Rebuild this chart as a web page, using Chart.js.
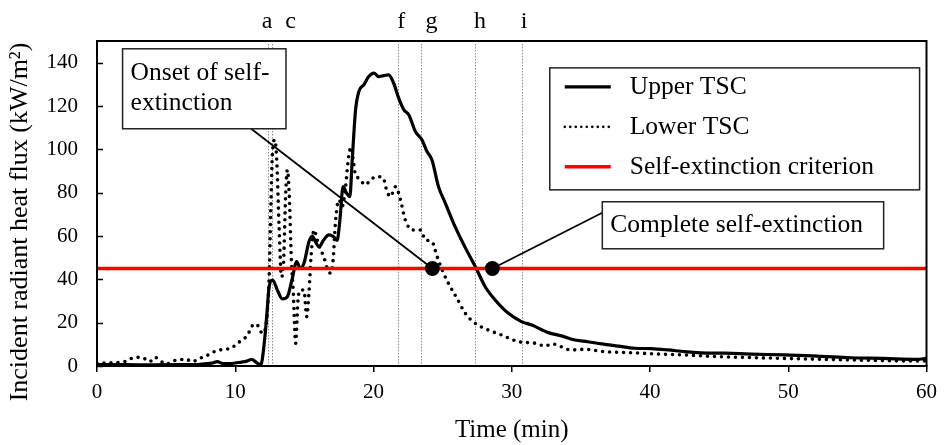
<!DOCTYPE html>
<html>
<head>
<meta charset="utf-8">
<script src="https://cdn.jsdelivr.net/npm/chart.js@4.4.1/dist/chart.umd.min.js"></script>
<style>
  html, body { margin: 0; padding: 0; background: #fff; }
  canvas { display: block; }
</style>
</head>
<body>
<canvas id="flux" width="945" height="445"></canvas>
<script>
/* radiant heat flux vs time, upper / lower TSC */

const upperTime = [0, 2, 4, 6, 7.5, 8.3, 8.7, 9.1, 9.6, 10.2, 10.7, 11.2, 11.6, 11.85, 12.1, 12.3, 12.45, 12.7, 13.05, 13.4, 13.77, 14.1, 14.45, 14.7, 14.97, 15.33, 15.57, 15.8, 16.05, 16.4, 16.77, 17.1, 17.37, 17.57, 17.8, 18.05, 18.29, 18.46, 18.7, 18.94, 19.3, 19.66, 20.02, 20.38, 20.74, 21.1, 21.46, 21.83, 22.2, 22.55, 23.03, 23.5, 23.87, 24.23, 24.7, 25.2, 25.9, 26.6, 27.36, 28.08, 28.8, 29.76, 30.7, 31.45, 32.65, 33.6, 34.57, 35.5, 36.5, 37.7, 38.9, 40.1, 41.3, 42.5, 43.7, 45.4, 47.3, 49.7, 52.1, 54.5, 56.9, 59.3, 60];
const upperFlux = [0.6, 0.6, 0.5, 0.6, 0.8, 1.3, 2.0, 1.1, 1.1, 1.6, 2.0, 3.0, 1.3, 0.6, 10.6, 25, 36.6, 39.7, 35, 31, 32, 39.7, 48.2, 45, 47.4, 57.4, 60, 57.4, 55, 58.2, 60.5, 59.7, 58, 67.4, 82.8, 79.8, 78.2, 95, 118, 126.7, 129.8, 133.6, 135.2, 133.6, 134, 134.4, 130.5, 123.5, 118.2, 116, 108.2, 104.4, 99, 95.1, 82.8, 75.1, 64.3, 55.1, 45.9, 36.6, 30.5, 24.3, 20.5, 18.9, 15.4, 13.9, 12, 11.2, 10.2, 9.2, 8.2, 8.0, 7.4, 6.6, 6.1, 5.9, 5.5, 5.1, 4.6, 3.8, 3.5, 3.1, 3.5];

const lowerTime = [0, 1, 2, 2.5, 2.95, 3.4, 3.8, 4.2, 4.6, 5.0, 5.5, 5.95, 6.4, 6.9, 7.4, 7.9, 8.24, 8.7, 9.2, 9.7, 10.16, 10.5, 10.9, 11.1, 11.36, 11.65, 11.96, 12.2, 12.45, 12.57, 12.68, 12.86, 13.0, 13.17, 13.34, 13.48, 13.65, 13.77, 13.9, 14.06, 14.2, 14.37, 14.54, 14.73, 14.97, 15.17, 15.33, 15.5, 15.7, 15.93, 16.18, 16.4, 16.65, 16.9, 17.08, 17.26, 17.5, 17.73, 17.98, 18.2, 18.39, 18.53, 18.7, 18.94, 19.42, 19.78, 20.26, 20.7, 20.98, 21.22, 21.6, 21.95, 22.3, 22.8, 23.4, 23.75, 24.23, 24.6, 25.07, 25.55, 26.03, 26.64, 27.36, 28.3, 29.28, 30.5, 31.7, 32.4, 32.9, 34.3, 35.3, 36.7, 38.7, 40.6, 42.5, 44.9, 47.3, 49.7, 54.5, 59.3, 60];
const lowerFlux = [1.2, 1.5, 2, 3.5, 4, 3.5, 2, 4, 2.3, 0.9, 2.3, 2.8, 3.2, 2, 3.5, 4.6, 5.9, 7.1, 7.7, 8.2, 10.5, 12, 14.3, 17, 19.4, 18.5, 15.1, 18, 41, 72, 96.7, 104.4, 95, 64.3, 41.2, 45.9, 79.8, 90.5, 79.8, 49, 33.6, 10.5, 30.5, 35.1, 35, 22.8, 33.6, 52, 62.8, 58.2, 53.6, 50.5, 45.1, 42.8, 49, 67.4, 76.7, 73.6, 82.8, 96.7, 101, 95, 88.2, 86.7, 83.6, 85.9, 87.4, 86.7, 80.5, 78.2, 82.8, 76.7, 67.4, 62.8, 62.8, 58.2, 57.4, 50.5, 42.8, 36.6, 31.3, 24.3, 19.7, 16.6, 14.3, 11.2, 10.5, 9.2, 10.2, 7.4, 7.7, 6.6, 6.1, 5.5, 5.1, 4.3, 3.9, 3.5, 2.8, 2.3, 2.3];

const criterion = 45;
const extinctionTimes = [24.26, 28.6];   // onset, complete

const markerTimes = [12.35, 12.64, 21.75, 23.4, 27.36, 30.75];
const letterLabels = ['a', 'c', 'f', 'g', 'h', 'i'];
const letterTimes = [12.3, 14.0, 22.0, 24.2, 27.7, 30.9];

const xTicks = [0, 10, 20, 30, 40, 50, 60];
const yTicks = [0, 20, 40, 60, 80, 100, 120, 140];

const legendOrder = ['Upper TSC', 'Lower TSC', 'Self-extinction criterion'];
const yTitle = 'Incident radiant heat flux (kW/m²)';

const SERIF = '"Liberation Serif", "Times New Roman", serif';

// callout boxes, in data units
const callouts = [
  { lines: ['Onset of self-', 'extinction'], x0: 1.85, x1: 13.67, y0: 146.4, y1: 109.5, from: [11.15, 109.5], to: 0 },
  { lines: ['Complete self-extinction'], x0: 36.55, x1: 56.9, y0: 75.8, y1: 54.1, from: [36.55, 70.7], to: 1 }
];
const legendBox = { x0: 32.75, x1: 59.5, y0: 137.6, y1: 81.3 };

const pts = (xs, ys) => xs.map((x, i) => ({ x, y: ys[i] }));

const overlay = {
  id: 'overlay',
  beforeDatasetsDraw(chart) {
    const { ctx, chartArea: a, scales: { x, y } } = chart;
    ctx.save();
    // dotted markers a..i
    ctx.strokeStyle = '#8c8c8c';
    ctx.lineWidth = 1;
    ctx.setLineDash([1.5, 1.5]);
    markerTimes.forEach(t => {
      const px = Math.round(x.getPixelForValue(t)) + 0.5;
      ctx.beginPath(); ctx.moveTo(px, a.top); ctx.lineTo(px, a.bottom); ctx.stroke();
    });
    ctx.setLineDash([]);
    // leader lines
    ctx.strokeStyle = '#000';
    ctx.lineWidth = 1.8;
    callouts.forEach(c => {
      ctx.beginPath();
      ctx.moveTo(x.getPixelForValue(c.from[0]), y.getPixelForValue(c.from[1]));
      ctx.lineTo(x.getPixelForValue(extinctionTimes[c.to]), y.getPixelForValue(criterion));
      ctx.stroke();
    });
    ctx.restore();
  },
  afterDraw(chart) {
    const { ctx, chartArea: a, scales: { x, y } } = chart;
    ctx.save();
    // frame + inward y ticks
    ctx.strokeStyle = '#000';
    ctx.lineWidth = 2;
    ctx.strokeRect(a.left, a.top, a.right - a.left, a.bottom - a.top);
    ctx.lineWidth = 1.5;
    yTicks.forEach(v => {
      const py = Math.round(y.getPixelForValue(v)) + 0.5;
      ctx.beginPath(); ctx.moveTo(a.left, py); ctx.lineTo(a.left + 6, py); ctx.stroke();
    });

    // y axis title, a bit below the axis centre as in the original
    ctx.fillStyle = '#000';
    ctx.font = '26px ' + SERIF;
    ctx.textAlign = 'center';
    ctx.textBaseline = 'middle';
    ctx.save();
    ctx.translate(20, 222);
    ctx.rotate(-Math.PI / 2);
    ctx.fillText(yTitle, 0, 0);
    ctx.restore();

    ctx.font = '24px ' + SERIF;
    ctx.textBaseline = 'alphabetic';
    letterLabels.forEach((l, i) => ctx.fillText(l, x.getPixelForValue(letterTimes[i]), 28));

    // callout boxes
    ctx.font = '25.5px ' + SERIF;
    ctx.textAlign = 'left';
    ctx.textBaseline = 'middle';
    callouts.forEach(c => {
      const l = x.getPixelForValue(c.x0), r = x.getPixelForValue(c.x1);
      const t = y.getPixelForValue(c.y0), b = y.getPixelForValue(c.y1);
      ctx.fillStyle = '#fff';
      ctx.fillRect(l, t, r - l, b - t);
      ctx.strokeStyle = '#222';
      ctx.lineWidth = 1.5;
      ctx.strokeRect(l, t, r - l, b - t);
      ctx.fillStyle = '#000';
      const h = 30, top = (t + b) / 2 - (c.lines.length - 1) * h / 2;
      c.lines.forEach((s, i) => ctx.fillText(s, l + 8, top + i * h));
    });

    // legend
    const lx = x.getPixelForValue(legendBox.x0), rx = x.getPixelForValue(legendBox.x1);
    const ty = y.getPixelForValue(legendBox.y0), by = y.getPixelForValue(legendBox.y1);
    ctx.fillStyle = '#fff';
    ctx.fillRect(lx, ty, rx - lx, by - ty);
    ctx.strokeStyle = '#222';
    ctx.lineWidth = 1.5;
    ctx.strokeRect(lx, ty, rx - lx, by - ty);
    legendOrder.forEach((name, i) => {
      const d = chart.data.datasets.find(ds => ds.label === name);
      const cy = ty + 19 + i * 40;
      ctx.strokeStyle = d.borderColor;
      ctx.lineWidth = d.legendWidth || d.borderWidth;
      ctx.lineCap = d.borderCapStyle || 'butt';
      ctx.setLineDash(d.legendDash || []);
      ctx.beginPath(); ctx.moveTo(lx + 15, cy); ctx.lineTo(lx + 61, cy); ctx.stroke();
      ctx.setLineDash([]);
      ctx.fillStyle = '#000';
      ctx.fillText(d.label, lx + 80, cy);
    });
    ctx.restore();
  }
};

new Chart(document.getElementById('flux'), {
  type: 'line',
  data: {
    datasets: [
      {
        label: 'Extinction points',
        data: extinctionTimes.map(t => ({ x: t, y: criterion })),
        showLine: false,
        pointRadius: 7.5,
        pointBackgroundColor: '#000',
        pointBorderWidth: 0,
        order: 0
      },
      {
        label: 'Self-extinction criterion',
        data: [{ x: 0, y: criterion }, { x: 60, y: criterion }],
        borderColor: '#ff0000',
        borderWidth: 3.5,
        pointRadius: 0,
        order: 1
      },
      {
        label: 'Upper TSC',
        data: pts(upperTime, upperFlux),
        borderColor: '#000',
        borderWidth: 3.2,
        cubicInterpolationMode: 'monotone',
        pointRadius: 0,
        order: 2
      },
      {
        label: 'Lower TSC',
        data: pts(lowerTime, lowerFlux),
        borderColor: '#000',
        borderWidth: 3.6,
        borderDash: [0, 7],
        legendDash: [0, 5.5],
        legendWidth: 2.6,
        borderCapStyle: 'round',
        cubicInterpolationMode: 'monotone',
        pointRadius: 0,
        order: 3
      }
    ]
  },
  options: {
    responsive: false,
    animation: false,
    layout: { padding: { left: 42, top: 41, right: 16, bottom: 0 } },
    plugins: { legend: { display: false }, tooltip: { enabled: false } },
    scales: {
      x: {
        type: 'linear',
        min: 0,
        max: 60,
        afterBuildTicks: s => { s.ticks = xTicks.map(v => ({ value: v })); },
        afterFit: s => { s.height = 79; },
        ticks: { color: '#000', font: { family: SERIF, size: 21 }, padding: 8, maxRotation: 0 },
        grid: { drawOnChartArea: false, tickLength: 6, color: '#000', lineWidth: 1.5 },
        border: { color: '#000', width: 2 },
        title: { display: true, text: 'Time (min)', color: '#000', font: { family: SERIF, size: 25 }, padding: { top: 5, bottom: 0 } }
      },
      y: {
        min: 0,
        max: 150,
        afterBuildTicks: s => { s.ticks = yTicks.map(v => ({ value: v })); },
        afterFit: s => { s.width = 55; },
        ticks: { color: '#000', font: { family: SERIF, size: 21 }, padding: 19 },
        grid: { display: false, drawTicks: false },
        border: { color: '#000', width: 2 },
        title: { display: false }
      }
    }
  },
  plugins: [overlay]
});
</script>
</body>
</html>
